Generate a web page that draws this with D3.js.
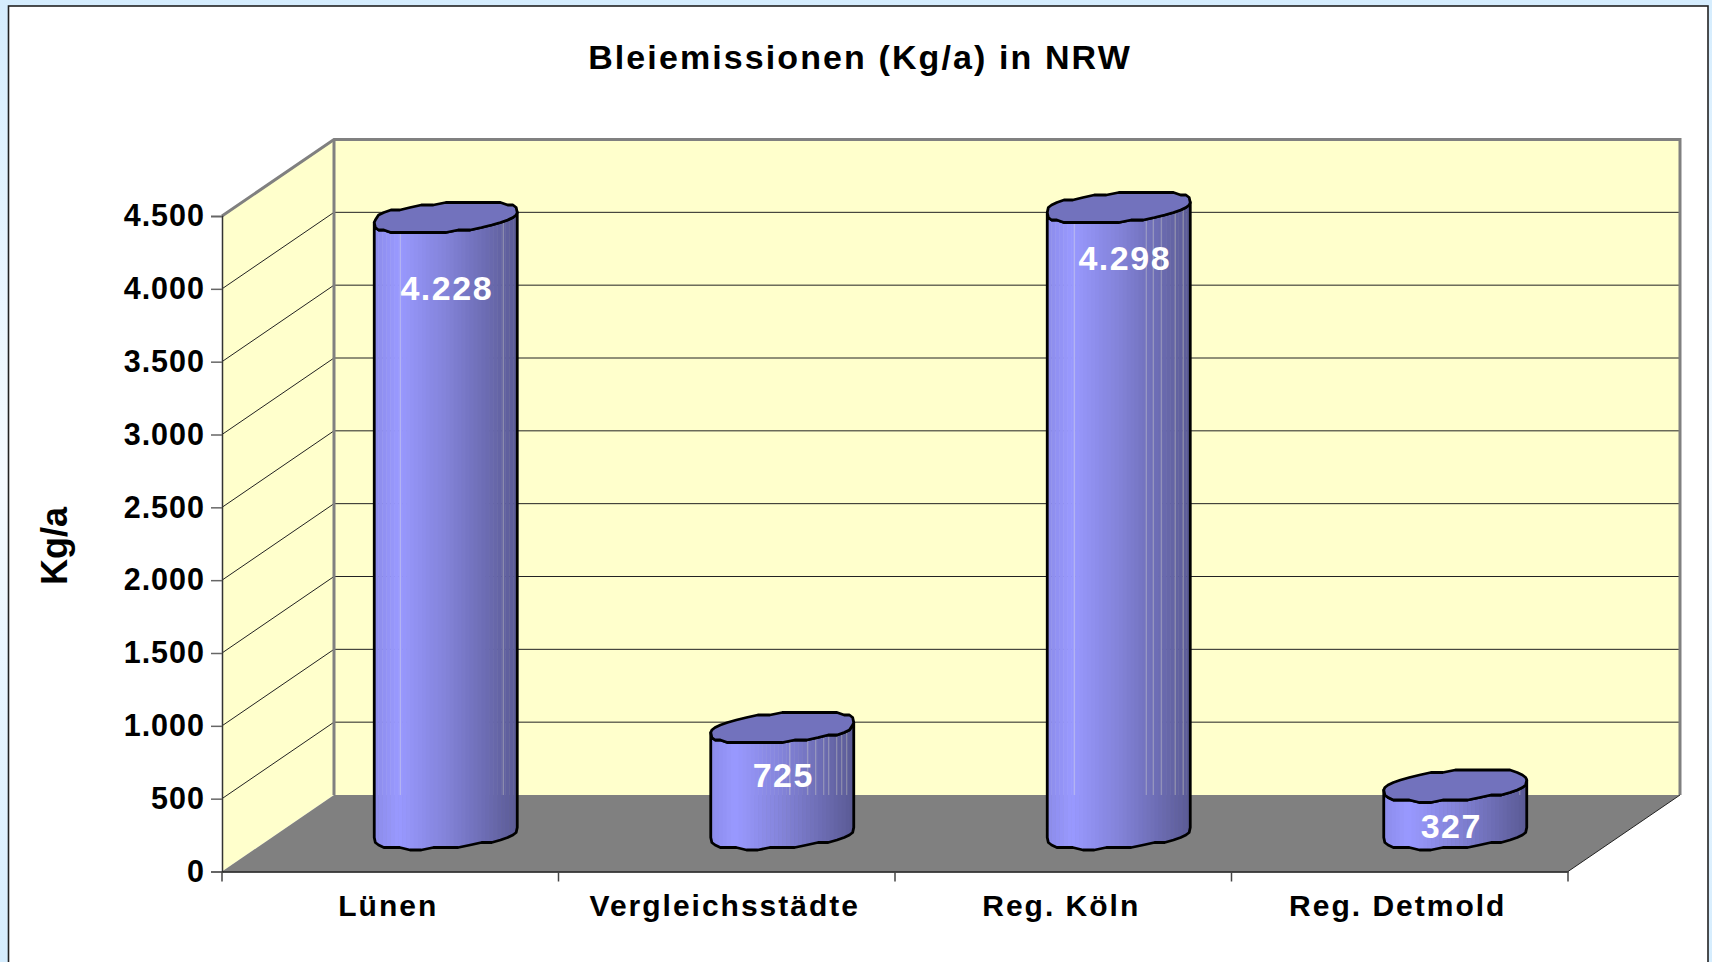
<!DOCTYPE html>
<html>
<head>
<meta charset="utf-8">
<script src="https://cdn.jsdelivr.net/npm/d3@7"></script>
<style>
html, body { margin: 0; padding: 0; width: 1712px; height: 962px; overflow: hidden; }
body { background: linear-gradient(#d5edfe 0%, #f6fbff 50%, #d5edfe 100%); }
svg { display: block; font-family: "Liberation Sans", Arial, sans-serif; font-weight: bold; }
</style>
</head>
<body>
<div id="chart"></div>
<script>
var categories = ["Lünen", "Vergleichsstädte", "Reg. Köln", "Reg. Detmold"];
var values = [4228, 725, 4298, 327];
var yTicks = [0, 500, 1000, 1500, 2000, 2500, 3000, 3500, 4000, 4500];
var title = "Bleiemissionen (Kg/a) in NRW";
var yTitle = "Kg/a";

var width = 1712, height = 962;
var plotLeft = 222, plotRight = 1568, plotBottom = 871.5, plotTop = 216;
var depthX = 112, depthY = -76.5;
var wallColor = "#ffffcc", edgeColor = "#808080";

var svg = d3.select("#chart").append("svg").attr("width", width).attr("height", height);

var x = d3.scaleBand().domain(categories).range([plotLeft, plotRight]);
var y = d3.scaleLinear().domain([0, 4500]).range([plotBottom, plotTop]);
var de = d3.formatLocale({ decimal: ",", thousands: ".", grouping: [3], currency: ["", " €"] });
var fmt = de.format(",d");
var line = d3.line();

// white sheet behind the chart
svg.append("rect").attr("x", 8.5).attr("y", 6).attr("width", 1699.5).attr("height", height)
    .attr("fill", "#fff").attr("stroke", "#222").attr("stroke-width", 1.6);

svg.append("text").attr("x", 860).attr("y", 69).attr("text-anchor", "middle")
    .attr("font-size", 34).attr("letter-spacing", 2.1).text(title);

// walls and floor
var backX0 = plotLeft + depthX, backX1 = plotRight + depthX, backTop = plotTop + depthY, backBottom = plotBottom + depthY;

svg.append("rect").attr("x", backX0).attr("y", backTop)
    .attr("width", backX1 - backX0).attr("height", backBottom - backTop).attr("fill", wallColor);
svg.append("path").attr("fill", wallColor)
    .attr("d", line([[plotLeft, plotTop], [backX0, backTop], [backX0, backBottom], [plotLeft, plotBottom]]) + "Z");

// gridlines on both walls
var grid = svg.append("g").attr("fill", "none").attr("stroke", "#222").attr("stroke-width", 1);
yTicks.slice(1, -1).forEach(function (t) {
    grid.append("path").attr("d", line([[plotLeft, y(t)], [backX0, y(t) + depthY], [backX1, y(t) + depthY]]));
});

svg.append("path").attr("fill", edgeColor)
    .attr("d", line([[plotLeft, plotBottom], [plotRight, plotBottom], [backX1, backBottom], [backX0, backBottom]]) + "Z");

// wall edges
svg.append("path").attr("fill", "none").attr("stroke", edgeColor).attr("stroke-width", 3)
    .attr("d", line([[plotLeft, plotTop], [backX0, backTop], [backX1, backTop], [backX1, backBottom]]));
svg.append("path").attr("fill", "none").attr("stroke", edgeColor).attr("stroke-width", 3)
    .attr("d", line([[backX0, backTop], [backX0, backBottom]]));
svg.append("path").attr("fill", "none").attr("stroke", "#222").attr("stroke-width", 1)
    .attr("d", line([[plotRight, plotBottom], [backX1, backBottom]]));

// y axis
var yAxis = d3.axisLeft(y).tickValues(yTicks).tickFormat(fmt).tickSize(11).tickPadding(6);
var yG = svg.append("g").attr("transform", "translate(" + plotLeft + ",0)").call(yAxis);
yG.select(".domain").attr("stroke", "#333").attr("stroke-width", 1.5);
yG.selectAll(".tick line").attr("stroke", "#666").attr("stroke-width", 1.5);
yG.selectAll("text").attr("font-size", 30.5).attr("font-family", "Liberation Sans").attr("fill", "#000")
    .attr("font-weight", "bold").attr("letter-spacing", 1);

// x axis
var xAxis = d3.axisBottom(x).tickSize(0).tickPadding(23);
var xG = svg.append("g").attr("transform", "translate(0," + plotBottom + ")").call(xAxis);
xG.select(".domain").attr("stroke", "#111").attr("stroke-width", 1.5);
xG.selectAll("text").attr("font-size", 30).attr("font-family", "Liberation Sans").attr("fill", "#000")
    .attr("font-weight", "bold").attr("letter-spacing", 2).attr("dx", -2);
xG.selectAll(".sep").data(d3.range(categories.length + 1)).enter().append("line").attr("class", "sep")
    .attr("x1", function (i) { return plotLeft + i * x.bandwidth(); })
    .attr("x2", function (i) { return plotLeft + i * x.bandwidth(); })
    .attr("y1", 0).attr("y2", 10).attr("stroke", "#444").attr("stroke-width", 1.5);

svg.append("text").attr("transform", "translate(67,546) rotate(-90)").attr("text-anchor", "middle")
    .attr("font-size", 36).text(yTitle);

// cylinders
var hw = 71.5, tilt = 5.5, minor = 14.5;
var shade = d3.scaleLinear().domain([0, 0.17, 0.5, 1])
    .range(["#8c8cea", "#9999ff", "#8383d9", "#5a5a94"]);
var seamOffsets = [[26, 129], [79, 97, 105, 113, 118, 126, 131, 136], [27, 99, 106, 114, 128, 136], [136]];
var labelDx = [1, 1, 6, -4];
var labelDy = [83, 59, 63, 52];
var steps = 36;
var facets = d3.range(steps);

// one point on the rim, stepped so the outline has the jagged look
function rim(cx, cy, a) {
    var s = Math.sin(a);
    var bulge = Math.sign(s) * Math.pow(Math.abs(s), 0.75);
    var py = cy - tilt * Math.cos(a) - minor * bulge;
    return [cx + hw * Math.cos(a), Math.round(py / 2.5) * 2.5];
}

var bars = svg.selectAll(".bar").data(values).enter().append("g").attr("class", "bar");

bars.each(function (v, i) {
    var g = d3.select(this);
    var cx = x(categories[i]) + x.bandwidth() / 2 + depthX / 2 - 0.5;
    var cyBase = y(0) + depthY / 2;
    var cyTop = y(v) + depthY / 2;
    var clipId = "side" + i;

    // front half of the rim, left to right
    var lower = d3.range(steps / 2 + 1).map(function (k) {
        return Math.PI + k * 2 * Math.PI / steps;
    });
    var outline = lower.map(function (a) { return rim(cx, cyBase, a); })
        .concat(lower.slice().reverse().map(function (a) { return rim(cx, cyTop, a); }));

    g.append("clipPath").attr("id", clipId).append("path").attr("d", line(outline) + "Z");

    var strips = d3.range(36);
    g.append("g").attr("clip-path", "url(#" + clipId + ")").selectAll("rect").data(strips).enter().append("rect")
        .attr("x", function (s) { return cx - hw + s * 2 * hw / 36; })
        .attr("width", 2 * hw / 36 + 0.5)
        .attr("y", cyTop - 30)
        .attr("height", cyBase - cyTop + 60)
        .attr("fill", function (s) { return shade((s + 0.5) / 36); });

    // thin seams where the wall shows through, they end at the floor
    if (cyTop < backBottom) {
        g.append("g").attr("clip-path", "url(#" + clipId + ")").selectAll("line").data(seamOffsets[i]).enter().append("line")
            .attr("x1", function (d) { return cx - hw + d; })
            .attr("x2", function (d) { return cx - hw + d; })
            .attr("y1", cyTop).attr("y2", backBottom)
            .attr("stroke", "#ffffd0").attr("stroke-opacity", 0.35).attr("stroke-width", 1);
    }

    g.append("path").attr("d", line(outline) + "Z").attr("fill", "none")
        .attr("stroke", "#000").attr("stroke-width", 2.8).attr("stroke-linejoin", "round");

    var rimTop = facets.map(function (k) { return rim(cx, cyTop, k * 2 * Math.PI / steps); });
    g.append("path").attr("d", line(rimTop) + "Z").attr("fill", "#7272bd")
        .attr("stroke", "#000").attr("stroke-width", 2.8).attr("stroke-linejoin", "round");

    g.append("text").attr("x", cx + labelDx[i]).attr("y", cyTop + labelDy[i]).attr("text-anchor", "middle")
        .attr("font-size", 34).attr("letter-spacing", 1.5).attr("fill", "#fff").text(fmt(v));
});
</script>
</body>
</html>
